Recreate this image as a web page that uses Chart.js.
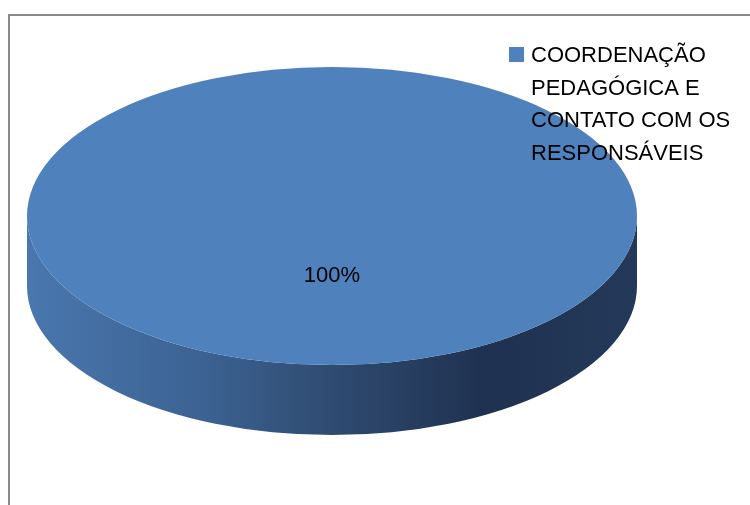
<!DOCTYPE html>
<html>
<head>
<meta charset="utf-8">
<script src="https://cdn.jsdelivr.net/npm/chart.js@4/dist/chart.umd.min.js"></script>
<style>
  html, body { margin: 0; padding: 0; background: #fff; }
  #wrap { width: 750px; height: 505px; }
</style>
</head>
<body>
<div id="wrap"><canvas id="myChart"></canvas></div>
<script>
// data
const labels = [['COORDENAÇÃO', 'PEDAGÓGICA E', 'CONTATO COM OS', 'RESPONSÁVEIS']];
const values = [100];
const colors = ['#4f81bd'];

const FONT = '22px "Liberation Sans", Arial, sans-serif';

// grey frame around the chart (runs off the right and bottom edges)
const framePlugin = {
  id: 'frame',
  beforeDraw(chart) {
    const c = chart.ctx;
    c.save();
    c.strokeStyle = '#8a8a8a';
    c.lineWidth = 2;
    c.strokeRect(9, 15, 800, 600);
    c.restore();
  },
};

// fake 3D: stretch the pie to an ellipse and draw a shaded side under it
const pie3dPlugin = {
  id: 'pie3d',
  beforeDatasetsDraw(chart) {
    const c = chart.ctx;
    const arc = chart.getDatasetMeta(0).data[0];
    const { x, y, outerRadius: r } = arc;
    const sx = chart.chartArea.width / chart.chartArea.height;
    const rx = r * sx;
    const depth = r * 0.47;

    const grad = c.createLinearGradient(x - rx, 0, x + rx, 0);
    grad.addColorStop(0, '#4977ae');
    grad.addColorStop(0.3, '#3b6191');
    grad.addColorStop(0.5, '#2f4b71');
    grad.addColorStop(0.75, '#1f3150');
    grad.addColorStop(1, '#24395a');

    c.save();
    c.fillStyle = grad;
    c.beginPath();
    c.ellipse(x, y, rx, r, 0, 0, Math.PI);
    c.lineTo(x - rx, y + depth);
    c.ellipse(x, y + depth, rx, r, 0, Math.PI, 0, true);
    c.closePath();
    c.fill();
    c.restore();

    c.save();
    c.translate(x, y);
    c.scale(sx, 1);
    c.translate(-x, -y);
  },
  afterDatasetsDraw(chart) {
    const c = chart.ctx;
    c.restore();
    const arc = chart.getDatasetMeta(0).data[0];
    const total = values.reduce((a, b) => a + b, 0);
    c.save();
    c.font = FONT;
    c.fillStyle = '#000';
    c.textAlign = 'center';
    c.textBaseline = 'alphabetic';
    c.fillText(Math.round(values[0] / total * 100) + '%', arc.x, arc.y + arc.outerRadius * 0.44);
    c.restore();
  },
};

// legend with wrapped label, top right
const legendPlugin = {
  id: 'sideLegend',
  afterDraw(chart) {
    const c = chart.ctx;
    c.save();
    c.fillStyle = colors[0];
    c.fillRect(509, 47, 15, 15);
    c.font = FONT;
    c.fillStyle = '#000';
    c.textAlign = 'left';
    c.textBaseline = 'alphabetic';
    labels[0].forEach(function (line, i) {
      c.fillText(line, 531, 62 + i * 32.5);
    });
    c.restore();
  },
};

const ctx = document.getElementById('myChart').getContext('2d');
const myChart = new Chart(ctx, {
  type: 'pie',
  data: {
    labels: labels,
    datasets: [
      {
        data: values,
        backgroundColor: colors,
        borderWidth: 0,
        hoverOffset: 0,
      },
    ],
  },
  options: {
    responsive: true,
    maintainAspectRatio: false,
    animation: false,
    events: [],
    layout: {
      padding: { left: 27, right: 113, top: 67, bottom: 140 },
    },
    plugins: {
      legend: { display: false },
      tooltip: { enabled: false },
    },
  },
  plugins: [framePlugin, pie3dPlugin, legendPlugin],
});
</script>
</body>
</html>
